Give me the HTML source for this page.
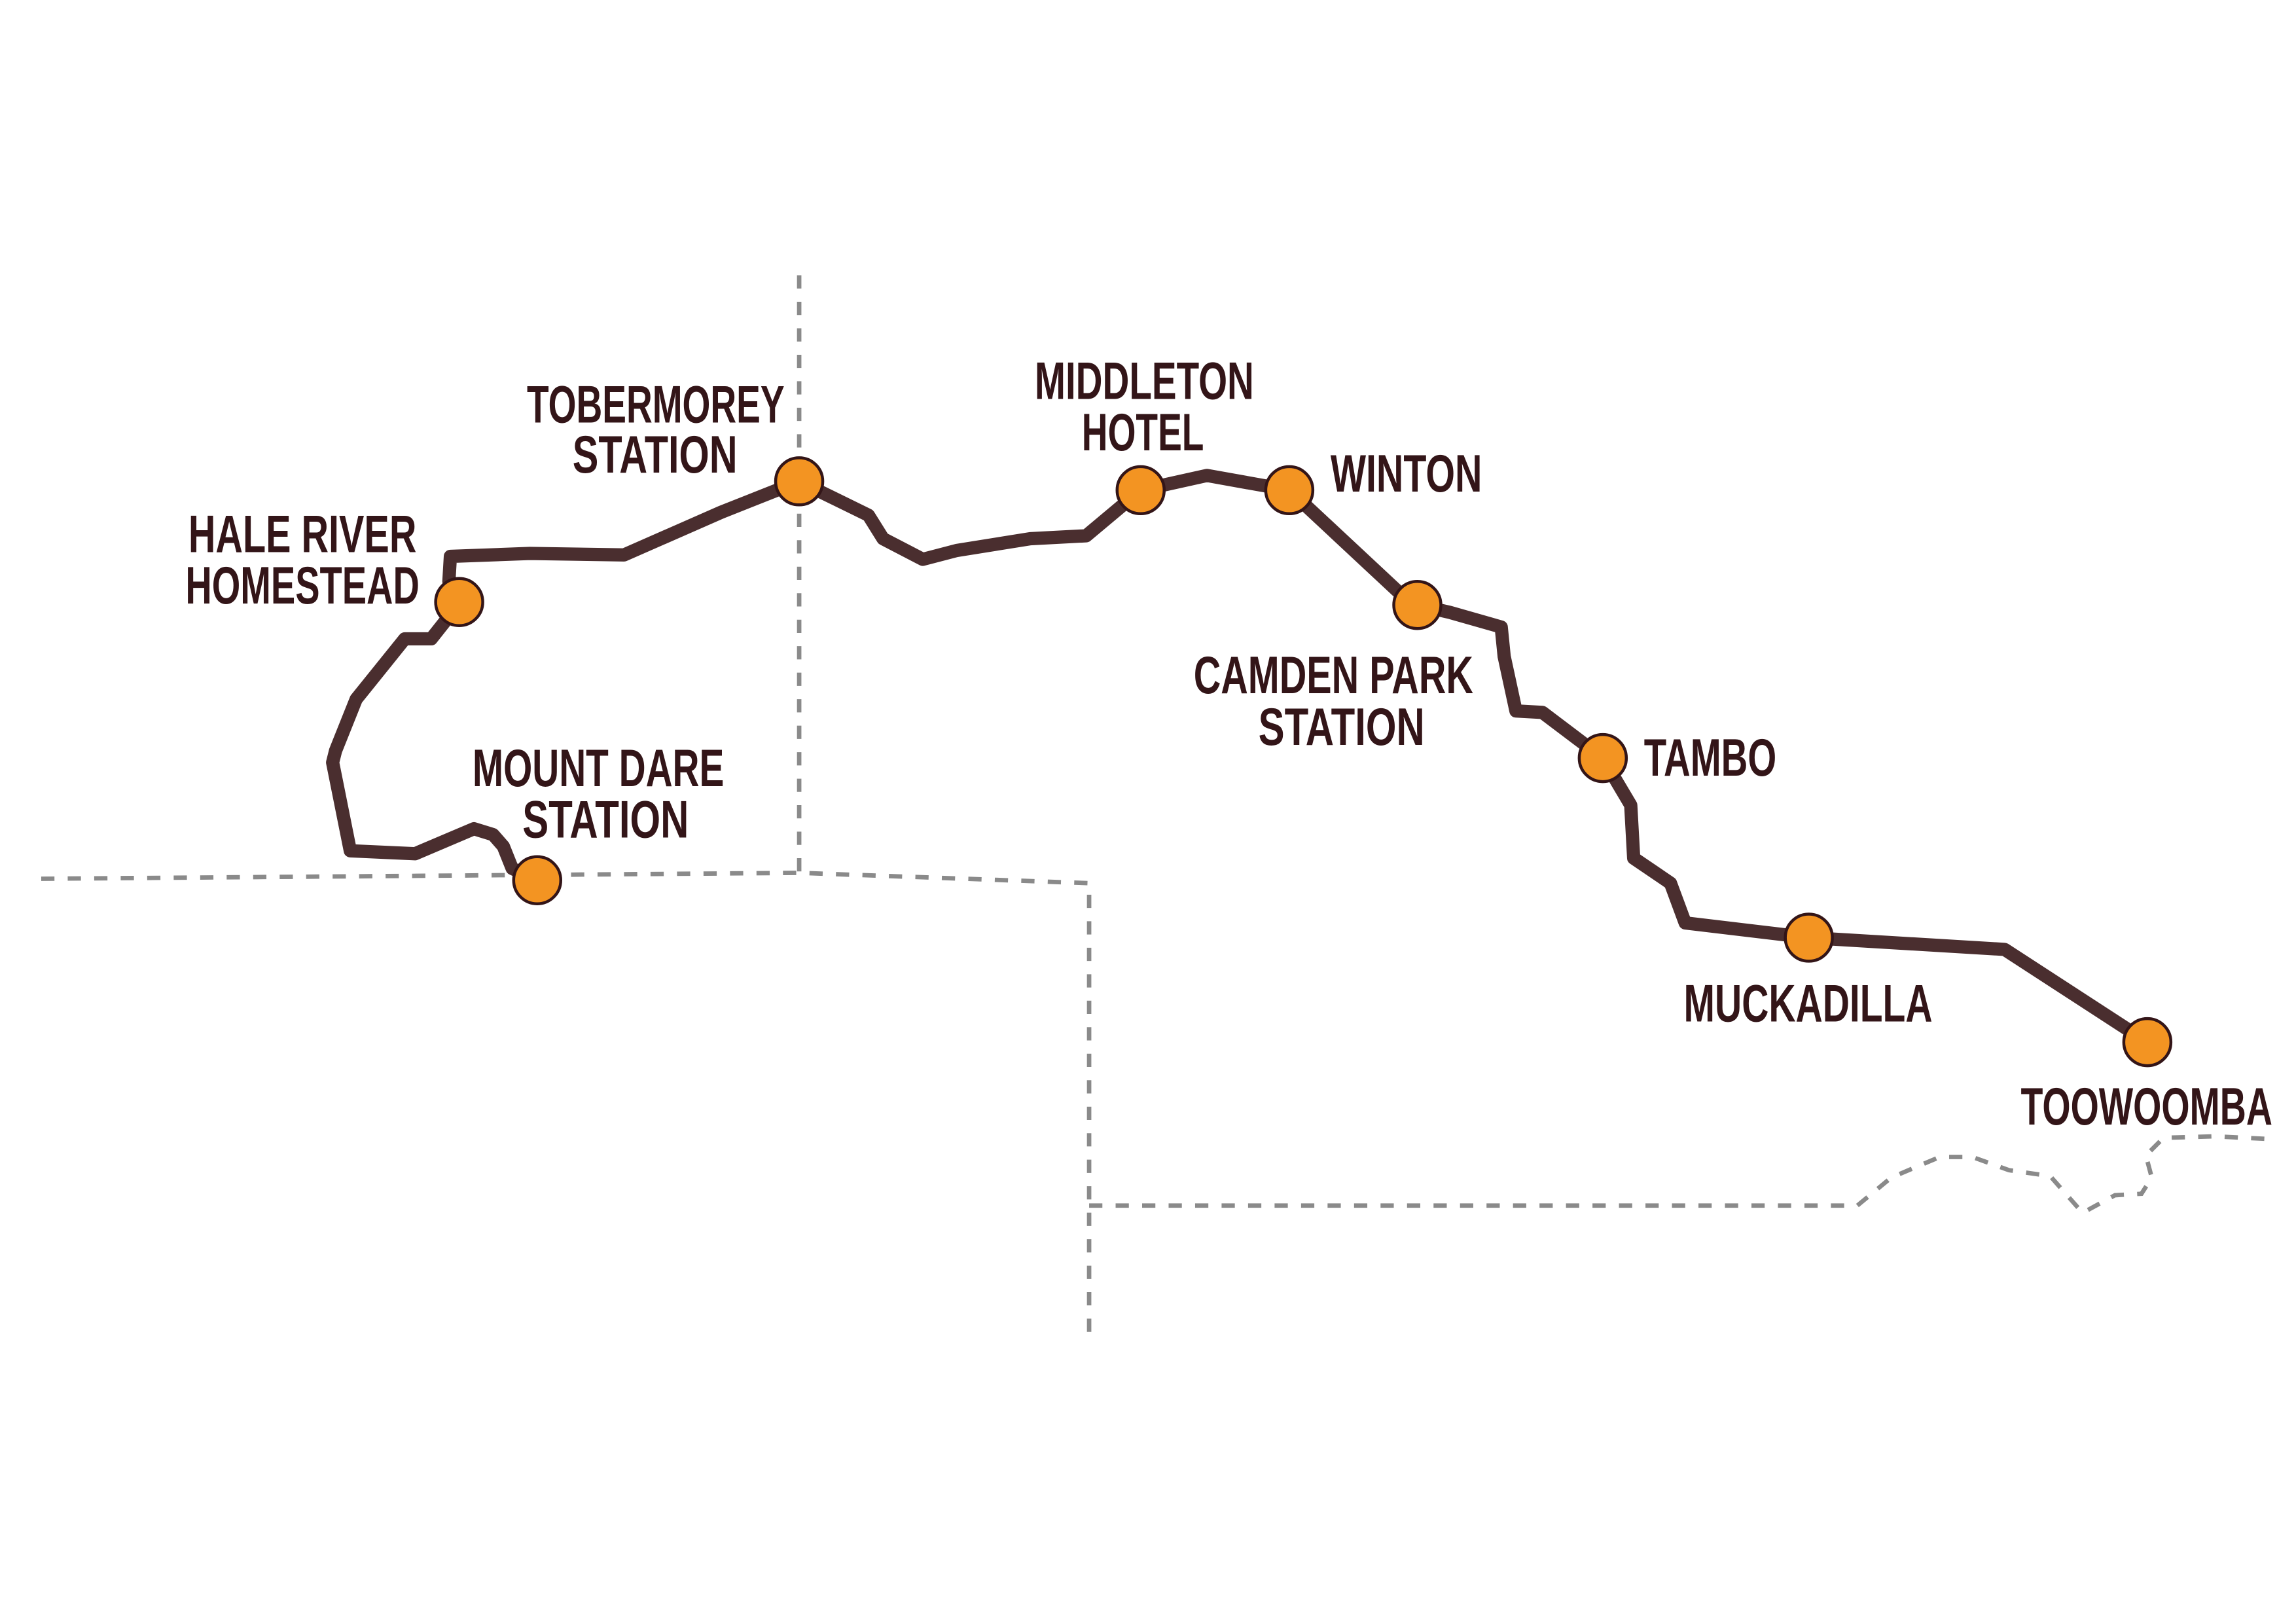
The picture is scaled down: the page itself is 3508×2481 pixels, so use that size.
<!DOCTYPE html>
<html><head><meta charset="utf-8"><style>
html,body{margin:0;padding:0;background:#fff;}
svg{display:block;}
text{font-family:"Liberation Sans",sans-serif;font-weight:bold;fill:#331518;font-size:36px;}
</style></head><body>
<svg width="3508" height="2481" viewBox="0 0 1560 1103.3" xmlns="http://www.w3.org/2000/svg">
<g fill="none" stroke="#8a8a8a" stroke-width="3" stroke-dasharray="9,9">
<path d="M543,187 L543,592"/>
<path d="M28,597 L543,593 L740,600 L740,912"/>
<path d="M740,819 L1262,819 L1285,800 L1318,786 L1340,786 L1365,795 L1393,799 L1415,824 L1437,812 L1455,811 L1462,800 L1458,785 L1470,773 L1505,772 L1545,774"/>
</g>
<path fill="none" stroke="#4a2e2f" stroke-width="9" stroke-linejoin="round" stroke-linecap="round"
d="M365,598 L348,590 L342,575 L335,567 L322,563 L282,580 L238,578 L226,518 L228,510 L242,475 L275,434 L293,434 L312,410 L305,395 L306,378 L360,376 L424,377 L490,348 L543,327 L590,350 L600,366 L627,380 L650,374 L700,366 L738,364 L775,333 L820,323 L876,333 L950,402 L963,411 L985,416 L1020,426 L1022,446 L1030,483 L1048,484 L1089,515 L1108,547 L1110,583 L1135,600 L1145,627 L1229,637 L1362,645 L1459,708"/>
<g fill="#f39422" stroke="#331518" stroke-width="2">
<circle cx="365" cy="598" r="16"/>
<circle cx="312" cy="409" r="16"/>
<circle cx="543" cy="327" r="16"/>
<circle cx="775" cy="333" r="16"/>
<circle cx="876" cy="333" r="16"/>
<circle cx="963" cy="411" r="16"/>
<circle cx="1089" cy="515" r="16"/>
<circle cx="1229" cy="637" r="16"/>
<circle cx="1459" cy="708" r="16"/>
</g>
<text x="358" y="287" textLength="175" lengthAdjust="spacingAndGlyphs">TOBERMOREY</text>
<text x="389" y="321" textLength="112" lengthAdjust="spacingAndGlyphs">STATION</text>
<text x="128" y="375" textLength="155" lengthAdjust="spacingAndGlyphs">HALE RIVER</text>
<text x="126" y="410" textLength="159" lengthAdjust="spacingAndGlyphs">HOMESTEAD</text>
<text x="321" y="534" textLength="171" lengthAdjust="spacingAndGlyphs">MOUNT DARE</text>
<text x="355" y="569" textLength="113" lengthAdjust="spacingAndGlyphs">STATION</text>
<text x="703" y="271" textLength="149" lengthAdjust="spacingAndGlyphs">MIDDLETON</text>
<text x="735" y="306" textLength="83" lengthAdjust="spacingAndGlyphs">HOTEL</text>
<text x="904" y="334" textLength="103" lengthAdjust="spacingAndGlyphs">WINTON</text>
<text x="811" y="471" textLength="190" lengthAdjust="spacingAndGlyphs">CAMDEN PARK</text>
<text x="855" y="506" textLength="113" lengthAdjust="spacingAndGlyphs">STATION</text>
<text x="1117" y="527" textLength="90" lengthAdjust="spacingAndGlyphs">TAMBO</text>
<text x="1144" y="694" textLength="169" lengthAdjust="spacingAndGlyphs">MUCKADILLA</text>
<text x="1373" y="764" textLength="171" lengthAdjust="spacingAndGlyphs">TOOWOOMBA</text>
</svg>
</body></html>
